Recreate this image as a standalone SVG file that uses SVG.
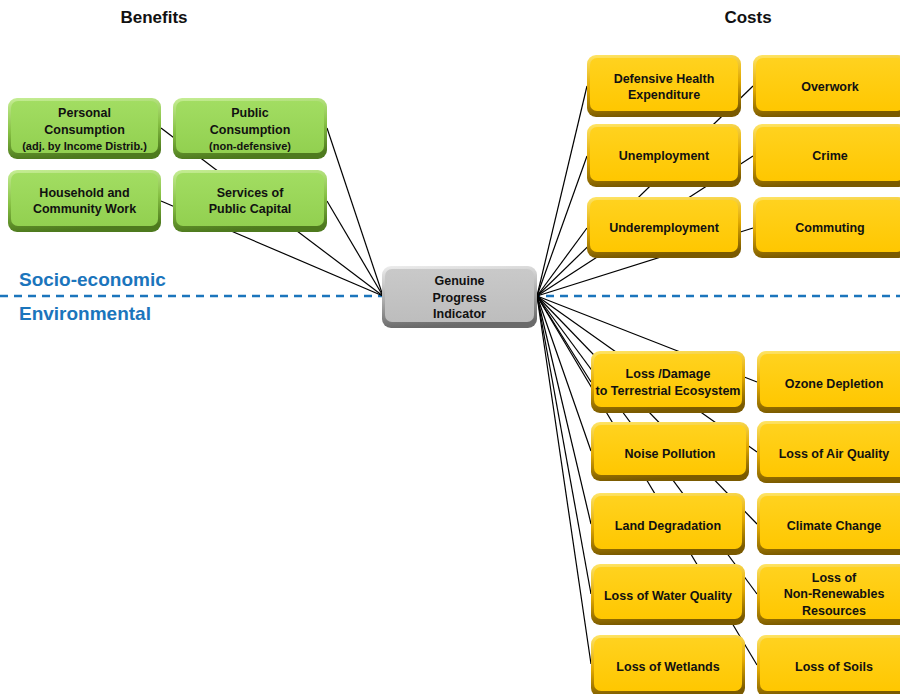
<svg xmlns="http://www.w3.org/2000/svg" width="900" height="694" viewBox="0 0 900 694">
<defs>
<linearGradient id="yOut" x1="0" y1="0" x2="0.15" y2="1"><stop offset="0" stop-color="#FFE566"/><stop offset="0.55" stop-color="#E0A800"/><stop offset="1" stop-color="#7A5A00"/></linearGradient>
<linearGradient id="yIn" x1="0" y1="0" x2="0" y2="1"><stop offset="0" stop-color="#FFD21F"/><stop offset="1" stop-color="#FFC700"/></linearGradient>
<linearGradient id="gOut" x1="0" y1="0" x2="0.15" y2="1"><stop offset="0" stop-color="#C6EE95"/><stop offset="0.55" stop-color="#86C043"/><stop offset="1" stop-color="#4E7A1E"/></linearGradient>
<linearGradient id="gIn" x1="0" y1="0" x2="0" y2="1"><stop offset="0" stop-color="#A2DD62"/><stop offset="1" stop-color="#92D050"/></linearGradient>
<linearGradient id="sOut" x1="0" y1="0" x2="0.15" y2="1"><stop offset="0" stop-color="#EDEDED"/><stop offset="0.55" stop-color="#ABABAB"/><stop offset="1" stop-color="#6A6A6A"/></linearGradient>
<linearGradient id="sIn" x1="0" y1="0" x2="0" y2="1"><stop offset="0" stop-color="#C9C9C9"/><stop offset="1" stop-color="#BDBDBD"/></linearGradient>
</defs>
<style>
.t{font-family:"Liberation Sans",Arial,sans-serif;font-weight:bold;font-size:12.5px;text-anchor:middle;fill:#111}
.s{font-size:11px}
.h{font-family:"Liberation Sans",Arial,sans-serif;font-weight:bold;font-size:17px;text-anchor:middle;fill:#111}
.z{font-family:"Liberation Sans",Arial,sans-serif;font-weight:bold;font-size:19px;fill:#1B75BC}
.yo{fill:url(#yOut)}.yi{fill:url(#yIn)}
.go{fill:url(#gOut)}.gi{fill:url(#gIn)}
.so{fill:url(#sOut)}.si{fill:url(#sIn)}
.c line{stroke:#000;stroke-width:1.2}
</style>
<rect width="900" height="694" fill="#fff"/>
<text class="h" x="154" y="23">Benefits</text>
<text class="h" x="748" y="23">Costs</text>
<line x1="0" y1="296" x2="900" y2="296" stroke="#1B75BC" stroke-width="2.5" stroke-dasharray="8,6"/>
<text class="z" x="19" y="286">Socio-economic</text>
<text class="z" x="19" y="320">Environmental</text>
<g id="connectors" class="c">
<line x1="383" y1="296" x2="161" y2="128"/>
<line x1="383" y1="296" x2="327" y2="128"/>
<line x1="383" y1="296" x2="161" y2="201"/>
<line x1="383" y1="296" x2="327" y2="201"/>
<line x1="537" y1="296" x2="587" y2="86"/>
<line x1="537" y1="296" x2="753" y2="86"/>
<line x1="537" y1="296" x2="587" y2="156"/>
<line x1="537" y1="296" x2="753" y2="156"/>
<line x1="537" y1="296" x2="587" y2="228"/>
<line x1="537" y1="296" x2="753" y2="228"/>
<line x1="537" y1="296" x2="591" y2="382"/>
<line x1="537" y1="296" x2="757" y2="382"/>
<line x1="537" y1="296" x2="591" y2="451"/>
<line x1="537" y1="296" x2="757" y2="452"/>
<line x1="537" y1="296" x2="591" y2="524"/>
<line x1="537" y1="296" x2="757" y2="524"/>
<line x1="537" y1="296" x2="591" y2="594"/>
<line x1="537" y1="296" x2="757" y2="594"/>
<line x1="537" y1="296" x2="591" y2="664"/>
<line x1="537" y1="296" x2="757" y2="665"/>
</g>
<g id="personal-consumption"><rect class="go" x="8" y="98" width="153" height="61" rx="9"/><rect class="gi" x="11" y="101" width="147" height="52" rx="7"/><text class="t" x="84.5" y="117">Personal</text><text class="t" x="84.5" y="134">Consumption</text><text class="t s" x="84.5" y="150">(adj. by Income Distrib.)</text></g>
<g id="public-consumption"><rect class="go" x="173" y="98" width="154" height="61" rx="9"/><rect class="gi" x="176" y="101" width="148" height="52" rx="7"/><text class="t" x="250" y="117">Public</text><text class="t" x="250" y="134">Consumption</text><text class="t s" x="250" y="150">(non-defensive)</text></g>
<g id="household-work"><rect class="go" x="8" y="170" width="153" height="62" rx="9"/><rect class="gi" x="11" y="173" width="147" height="53" rx="7"/><text class="t" x="84.5" y="197">Household and</text><text class="t" x="84.5" y="213">Community Work</text></g>
<g id="public-capital"><rect class="go" x="173" y="170" width="154" height="62" rx="9"/><rect class="gi" x="176" y="173" width="148" height="53" rx="7"/><text class="t" x="250" y="197">Services of</text><text class="t" x="250" y="213">Public Capital</text></g>
<g id="gpi"><rect class="so" x="382" y="266" width="155" height="62" rx="9"/><rect class="si" x="385" y="269" width="149" height="53" rx="7"/><text class="t" x="459.5" y="285">Genuine</text><text class="t" x="459.5" y="302">Progress</text><text class="t" x="459.5" y="318">Indicator</text></g>
<g id="defensive-health"><rect class="yo" x="587" y="55" width="154" height="62" rx="9"/><rect class="yi" x="590" y="58" width="148" height="53" rx="7"/><text class="t" x="664" y="83">Defensive Health</text><text class="t" x="664" y="99">Expenditure</text></g>
<g id="overwork"><rect class="yo" x="753" y="55" width="154" height="62" rx="9"/><rect class="yi" x="756" y="58" width="148" height="53" rx="7"/><text class="t" x="830" y="91">Overwork</text></g>
<g id="unemployment"><rect class="yo" x="587" y="124" width="154" height="63" rx="9"/><rect class="yi" x="590" y="127" width="148" height="54" rx="7"/><text class="t" x="664" y="160">Unemployment</text></g>
<g id="crime"><rect class="yo" x="753" y="124" width="154" height="63" rx="9"/><rect class="yi" x="756" y="127" width="148" height="54" rx="7"/><text class="t" x="830" y="160">Crime</text></g>
<g id="underemployment"><rect class="yo" x="587" y="197" width="154" height="61" rx="9"/><rect class="yi" x="590" y="200" width="148" height="52" rx="7"/><text class="t" x="664" y="232">Underemployment</text></g>
<g id="commuting"><rect class="yo" x="753" y="197" width="154" height="61" rx="9"/><rect class="yi" x="756" y="200" width="148" height="52" rx="7"/><text class="t" x="830" y="232">Commuting</text></g>
<g id="terrestrial"><rect class="yo" x="591" y="351" width="154" height="62" rx="9"/><rect class="yi" x="594" y="354" width="148" height="53" rx="7"/><text class="t" x="668" y="378">Loss /Damage</text><text class="t" x="668" y="395">to Terrestrial Ecosystem</text></g>
<g id="ozone"><rect class="yo" x="757" y="351" width="154" height="62" rx="9"/><rect class="yi" x="760" y="354" width="148" height="53" rx="7"/><text class="t" x="834" y="388">Ozone Depletion</text></g>
<g id="noise"><rect class="yo" x="591" y="422" width="158" height="59" rx="9"/><rect class="yi" x="594" y="425" width="152" height="50" rx="7"/><text class="t" x="670" y="458">Noise Pollution</text></g>
<g id="air-quality"><rect class="yo" x="757" y="421" width="154" height="62" rx="9"/><rect class="yi" x="760" y="424" width="148" height="53" rx="7"/><text class="t" x="834" y="458">Loss of Air Quality</text></g>
<g id="land"><rect class="yo" x="591" y="493" width="154" height="62" rx="9"/><rect class="yi" x="594" y="496" width="148" height="53" rx="7"/><text class="t" x="668" y="530">Land Degradation</text></g>
<g id="climate"><rect class="yo" x="757" y="493" width="154" height="62" rx="9"/><rect class="yi" x="760" y="496" width="148" height="53" rx="7"/><text class="t" x="834" y="530">Climate Change</text></g>
<g id="water"><rect class="yo" x="591" y="564" width="154" height="61" rx="9"/><rect class="yi" x="594" y="567" width="148" height="52" rx="7"/><text class="t" x="668" y="600">Loss of Water Quality</text></g>
<g id="non-renewables"><rect class="yo" x="757" y="564" width="154" height="61" rx="9"/><rect class="yi" x="760" y="567" width="148" height="52" rx="7"/><text class="t" x="834" y="582">Loss of</text><text class="t" x="834" y="598">Non-Renewables</text><text class="t" x="834" y="615">Resources</text></g>
<g id="wetlands"><rect class="yo" x="591" y="635" width="154" height="62" rx="9"/><rect class="yi" x="594" y="638" width="148" height="53" rx="7"/><text class="t" x="668" y="671">Loss of Wetlands</text></g>
<g id="soils"><rect class="yo" x="757" y="635" width="154" height="62" rx="9"/><rect class="yi" x="760" y="638" width="148" height="53" rx="7"/><text class="t" x="834" y="671">Loss of Soils</text></g>
</svg>
